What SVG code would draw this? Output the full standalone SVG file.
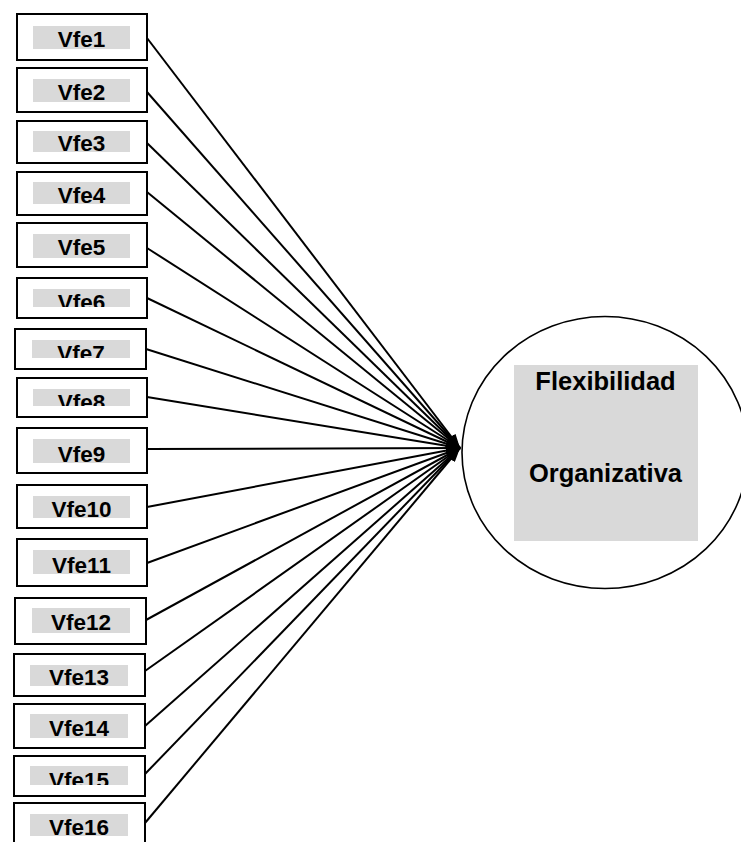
<svg xmlns="http://www.w3.org/2000/svg" width="741" height="842" viewBox="0 0 741 842">
<style>
.box{fill:#fff;stroke:#000;stroke-width:2}
.lab{fill:#d9d9d9}
.t{font-family:"Liberation Sans",Arial,sans-serif;font-weight:bold;font-size:22.5px;fill:#000;text-anchor:middle}
.big{font-family:"Liberation Sans",Arial,sans-serif;font-weight:bold;font-size:25.5px;fill:#000;text-anchor:middle}
.c line{stroke:#000;stroke-width:2;marker-end:url(#ah)}
</style>
<defs>
<marker id="ah" markerUnits="userSpaceOnUse" markerWidth="14" markerHeight="10" refX="14" refY="5" orient="auto">
<path d="M0,0 L14,5 L0,10 z" fill="#000"/>
</marker>
<clipPath id="c6"><rect x="33" y="289" width="97" height="18"/></clipPath>
<clipPath id="c7"><rect x="32" y="340" width="98" height="18"/></clipPath>
<clipPath id="c8"><rect x="33" y="389" width="97" height="17"/></clipPath>
<clipPath id="c15"><rect x="30" y="766" width="98" height="19"/></clipPath>
<clipPath id="c16"><rect x="30" y="814" width="98" height="22"/></clipPath>
</defs>
<rect width="741" height="842" fill="#fff"/>
<g id="connectors" class="c">
<line x1="147" y1="38" x2="460" y2="448"/>
<line x1="147" y1="92" x2="460" y2="448"/>
<line x1="147" y1="143" x2="460" y2="448"/>
<line x1="147" y1="192" x2="460" y2="448"/>
<line x1="147" y1="248" x2="460" y2="448"/>
<line x1="147" y1="298" x2="460" y2="448"/>
<line x1="146" y1="349" x2="460" y2="448"/>
<line x1="147" y1="397" x2="460" y2="448"/>
<line x1="147" y1="449" x2="460" y2="448"/>
<line x1="147" y1="507" x2="460" y2="448"/>
<line x1="147" y1="563" x2="460" y2="448"/>
<line x1="146" y1="620" x2="460" y2="448"/>
<line x1="145" y1="671" x2="460" y2="448"/>
<line x1="145" y1="726" x2="460" y2="448"/>
<line x1="145" y1="774" x2="460" y2="448"/>
<line x1="145" y1="823" x2="460" y2="448"/>
</g>
<g id="vfe1"><rect class="box" x="17" y="14" width="130" height="46"/><rect class="lab" x="33" y="26" width="97" height="23"/><text class="t" x="81.5" y="46.5">Vfe1</text></g>
<g id="vfe2"><rect class="box" x="17" y="68" width="130" height="44"/><rect class="lab" x="33" y="79" width="97" height="23"/><text class="t" x="81.5" y="99.5">Vfe2</text></g>
<g id="vfe3"><rect class="box" x="17" y="121" width="130" height="42"/><rect class="lab" x="33" y="131" width="97" height="21"/><text class="t" x="81.5" y="151">Vfe3</text></g>
<g id="vfe4"><rect class="box" x="17" y="172" width="130" height="43"/><rect class="lab" x="33" y="182" width="97" height="22"/><text class="t" x="81.5" y="203">Vfe4</text></g>
<g id="vfe5"><rect class="box" x="17" y="223" width="130" height="44"/><rect class="lab" x="33" y="234" width="97" height="24"/><text class="t" x="81.5" y="255">Vfe5</text></g>
<g id="vfe6"><rect class="box" x="17" y="278" width="130" height="40"/><rect class="lab" x="33" y="289" width="97" height="18"/><text class="t" x="81.5" y="310" clip-path="url(#c6)">Vfe6</text></g>
<g id="vfe7"><rect class="box" x="15" y="329" width="131" height="40"/><rect class="lab" x="32" y="340" width="98" height="18"/><text class="t" x="81" y="361" clip-path="url(#c7)">Vfe7</text></g>
<g id="vfe8"><rect class="box" x="17" y="378" width="130" height="39"/><rect class="lab" x="33" y="389" width="97" height="17"/><text class="t" x="81.5" y="410" clip-path="url(#c8)">Vfe8</text></g>
<g id="vfe9"><rect class="box" x="17" y="428" width="130" height="45"/><rect class="lab" x="33" y="439" width="97" height="24"/><text class="t" x="81.5" y="461.5">Vfe9</text></g>
<g id="vfe10"><rect class="box" x="17" y="485" width="130" height="43"/><rect class="lab" x="33" y="496" width="97" height="22"/><text class="t" x="81.5" y="517">Vfe10</text></g>
<g id="vfe11"><rect class="box" x="17" y="539" width="130" height="47"/><rect class="lab" x="33" y="550" width="97" height="24"/><text class="t" x="81.5" y="572.5">Vfe11</text></g>
<g id="vfe12"><rect class="box" x="15" y="598" width="131" height="46"/><rect class="lab" x="32" y="608" width="98" height="25"/><text class="t" x="81" y="630">Vfe12</text></g>
<g id="vfe13"><rect class="box" x="14" y="654" width="131" height="42"/><rect class="lab" x="30" y="665" width="98" height="21"/><text class="t" x="79" y="685">Vfe13</text></g>
<g id="vfe14"><rect class="box" x="14" y="704" width="131" height="44"/><rect class="lab" x="30" y="714" width="98" height="24"/><text class="t" x="79" y="736">Vfe14</text></g>
<g id="vfe15"><rect class="box" x="14" y="756" width="131" height="40"/><rect class="lab" x="30" y="766" width="98" height="19"/><text class="t" x="79" y="788" clip-path="url(#c15)">Vfe15</text></g>
<g id="vfe16"><rect class="box" x="14" y="803" width="131" height="48"/><rect class="lab" x="30" y="814" width="98" height="22"/><text class="t" x="79" y="834.5" clip-path="url(#c16)">Vfe16</text></g>
<g id="flexibilidad">
<ellipse cx="605" cy="452.5" rx="143" ry="136" fill="#fff" stroke="#000" stroke-width="1.6"/>
<rect class="lab" x="514" y="365" width="184" height="176"/>
<text class="big" x="605.5" y="389.5">Flexibilidad</text>
<text class="big" x="605.5" y="481.5">Organizativa</text>
</g>
</svg>
